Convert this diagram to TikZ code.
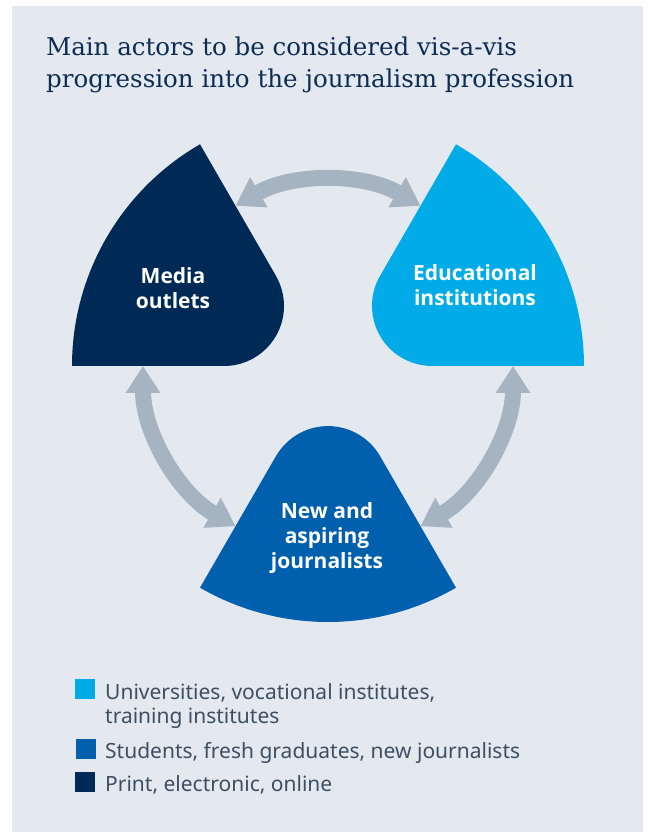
\documentclass[tikz,border=0pt]{standalone}
\usepackage{fontspec}
\setmainfont{DejaVu Serif}
\newfontfamily\labelfont{Open Sans}
\newfontfamily\keyfont{Noto Sans}
\usetikzlibrary{arrows.meta,positioning}

\definecolor{panel}{HTML}{E4E9F0}
\definecolor{navy}{HTML}{002A56}
\definecolor{cyan}{HTML}{00ABE8}
\definecolor{midblue}{HTML}{0060AD}
\definecolor{linkgray}{HTML}{A6B3C1}
\definecolor{titleblue}{HTML}{0D2C54}
\definecolor{keygray}{HTML}{3E4F61}

\tikzset{
  link/.style={draw=linkgray, line width=16pt,
    {Triangle[length=27pt,width=33pt]}-{Triangle[length=27pt,width=33pt]}},
  actor/.style={text=white, align=center,
    font=\labelfont\bfseries\fontsize{21}{25}\selectfont},
  keybox/.style={fill=#1, minimum size=20pt, inner sep=0pt},
  keytext/.style={text=keygray, anchor=base west, align=left, inner sep=0pt,
    font=\keyfont\fontsize{21}{24}\selectfont}
}

\begin{document}
\begin{tikzpicture}[x=1pt,y=1pt]
    \useasboundingbox (-328,-466) rectangle (320,366);
    \fill[white] (-328,-466) rectangle (320,366);
    \fill[panel] (-316,-466) rectangle (315,360);

    % title (base = last line)
    \node (title) [anchor=base west, align=left, inner sep=0pt, text=titleblue,
      font=\fontsize{24.5}{32}\selectfont] at (-282,278)
      {Main actors to be considered vis-a-vis\\progression into the journalism profession};

    % sectors: centre at origin, radius 256, rounded apex
    \fill[navy] (120:104) -- (120:256) arc[start angle=120, end angle=180, radius=256]
      -- (180:104) arc[start angle=270, end angle=390, radius=60] -- cycle;
    \fill[cyan] (0:104) -- (0:256) arc[start angle=0, end angle=60, radius=256]
      -- (60:104) arc[start angle=150, end angle=270, radius=60] -- cycle;
    \fill[midblue] (240:104) -- (240:256) arc[start angle=240, end angle=300, radius=256]
      -- (300:104) arc[start angle=390, end angle=510, radius=60] -- cycle;

    % labels
    \node (media) [actor] at (-155,78) {Media\\outlets};
    \node (edu) [actor] at (147,81) {Educational\\institutions};
    \node (new) [actor] at (-1,-172) {New and\\aspiring\\journalists};

    % arrow ends
    \coordinate (media-r) at (120:185);
    \coordinate (media-b) at (180:185);
    \coordinate (edu-l) at (60:185);
    \coordinate (edu-b) at (0:185);
    \coordinate (new-l) at (240:185);
    \coordinate (new-r) at (300:185);

    % arrows
    \draw[link] (edu-l) arc[start angle=60, end angle=120, radius=185];
    \draw[link] (media-b) arc[start angle=180, end angle=240, radius=185];
    \draw[link] (new-r) arc[start angle=300, end angle=360, radius=185];

    % legend
    \node (key1) [keybox=cyan] at (-243,-323) {};
    \node (key2) [keybox=midblue] at (-242,-383) {};
    \node (key3) [keybox=navy] at (-243,-416) {};
    \node (txt1) [keytext] at (-223,-357) {Universities, vocational institutes,\\training institutes};
    \node (txt2) [keytext] at (-223,-392) {Students, fresh graduates, new journalists};
    \node (txt3) [keytext] at (-223,-425) {Print, electronic, online};
\end{tikzpicture}
\end{document}
